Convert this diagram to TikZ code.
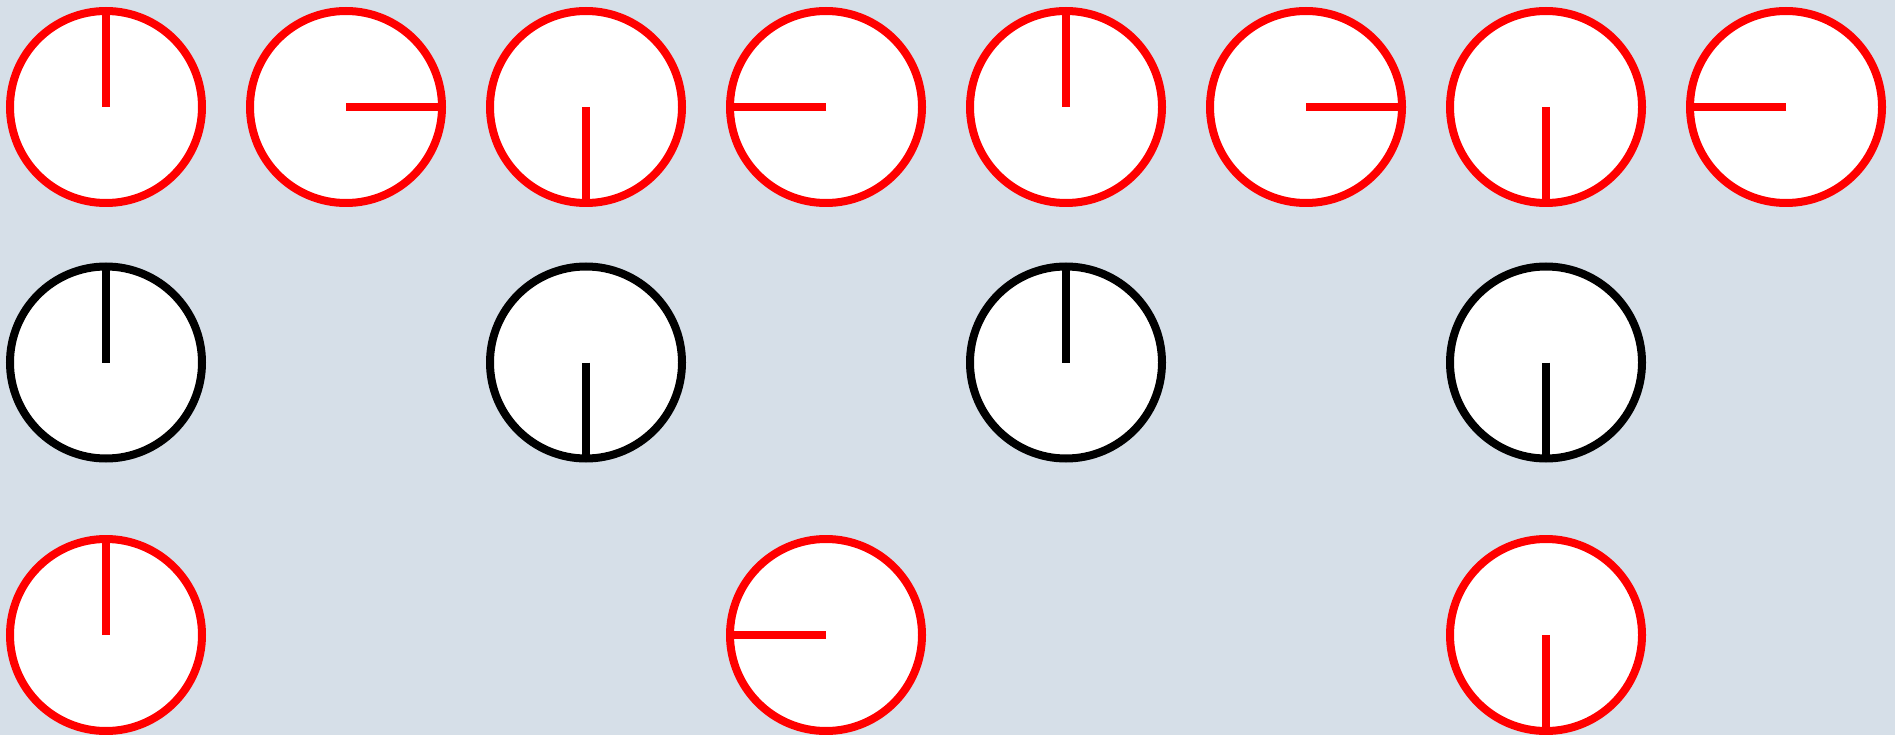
\documentclass[tikz,border=0pt]{standalone}
\definecolor{bgc}{HTML}{D6DFE8}
\definecolor{hred}{HTML}{FF0000}
\tikzset{
  clock/.style={circle, draw, fill=white, line width=8pt, minimum size=192pt, inner sep=0pt, outer sep=0pt},
  hand/.style={line width=8pt, line cap=butt}
}
\begin{document}
\begin{tikzpicture}[x=1pt,y=-1pt]
\fill[bgc] (0,0) rectangle (1895,735);
\useasboundingbox (0,0) rectangle (1895,735);
% row 1
\foreach \i/\d in {0/north,1/east,2/south,3/west,4/north,5/east,6/south,7/west}{
  \node[clock, draw=hred] (a\i) at (106+240*\i,107) {};
  \draw[hand, hred] (a\i.center) -- (a\i.\d);
}
% row 2
\foreach \i/\d in {0/north,2/south,4/north,6/south}{
  \node[clock, draw=black] (b\i) at (106+240*\i,362.5) {};
  \draw[hand, black] (b\i.center) -- (b\i.\d);
}
% row 3
\foreach \i/\d in {0/north,3/west,6/south}{
  \node[clock, draw=hred] (c\i) at (106+240*\i,635) {};
  \draw[hand, hred] (c\i.center) -- (c\i.\d);
}
\end{tikzpicture}
\end{document}
